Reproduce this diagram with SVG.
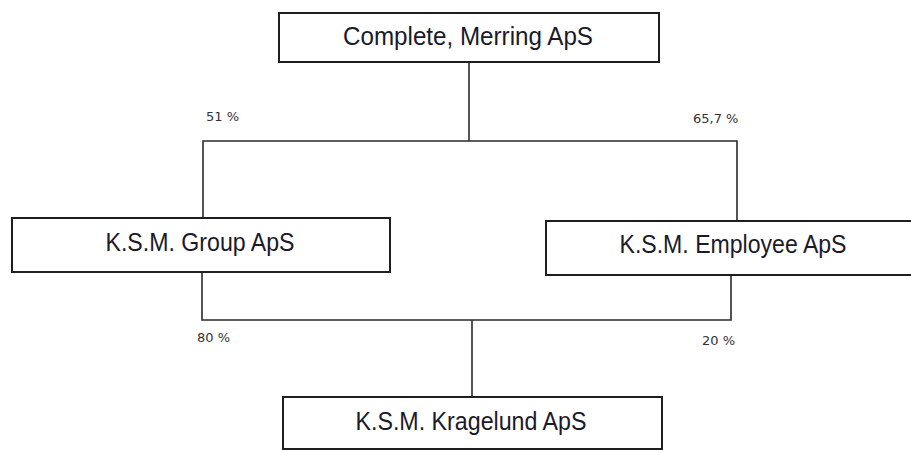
<svg xmlns="http://www.w3.org/2000/svg" width="911" height="451" viewBox="0 0 911 451">
<style>
.box{fill:#fff;stroke:#1e1e1e;stroke-width:2}
.name{font-family:"Liberation Sans",Arial,sans-serif;font-size:25px;fill:#1a1a2a;text-anchor:middle}
.pct{font-family:"DejaVu Sans",sans-serif;font-size:13px;fill:#333}
.conn{fill:none;stroke:#2a2a2a;stroke-width:1.6}
</style>
<rect width="911" height="451" fill="#fff"/>
<g id="connectors">
<line class="conn" x1="469" y1="62" x2="469" y2="141"/>
<polyline class="conn" points="203,218 203,141 737,141 737,221"/>
<polyline class="conn" points="202,272 202,320 731,320 731,275"/>
<line class="conn" x1="472" y1="320" x2="472" y2="397"/>
<text class="pct" x="206" y="121">51 %</text>
<text class="pct" x="693" y="123">65,7 %</text>
<text class="pct" x="197" y="342">80 %</text>
<text class="pct" x="702" y="345">20 %</text>
</g>
<g id="complete">
<rect class="box" x="279" y="13" width="380" height="49"/>
<text class="name" x="468" y="45" textLength="250" lengthAdjust="spacingAndGlyphs">Complete, Merring ApS</text>
</g>
<g id="group">
<rect class="box" x="12" y="218" width="378" height="54"/>
<text class="name" x="200" y="251" textLength="189" lengthAdjust="spacingAndGlyphs">K.S.M. Group ApS</text>
</g>
<g id="employee">
<rect class="box" x="546" y="221" width="374" height="54"/>
<text class="name" x="733" y="253" textLength="227" lengthAdjust="spacingAndGlyphs">K.S.M. Employee ApS</text>
</g>
<g id="kragelund">
<rect class="box" x="283" y="397" width="379" height="52"/>
<text class="name" x="471" y="430" textLength="231" lengthAdjust="spacingAndGlyphs">K.S.M. Kragelund ApS</text>
</g>
</svg>
